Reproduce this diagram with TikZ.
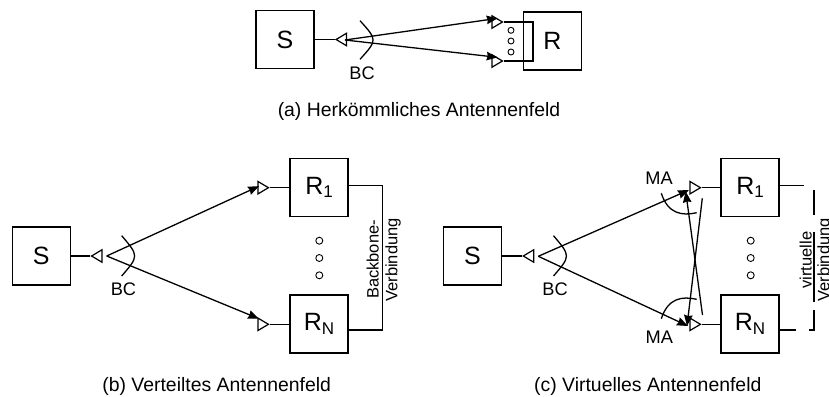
\documentclass[tikz,border=0pt]{standalone}
\usepackage{fontspec}
\setmainfont{Liberation Sans}
\usetikzlibrary{arrows.meta,shapes.geometric}
\newcommand{\lblfont}{\fontsize{16.5}{18}\selectfont}
\newcommand{\subidx}[1]{\raisebox{-3.5pt}{\fontsize{17}{17}\selectfont #1}}
\tikzset{
  box/.style={draw, line width=1.3pt, minimum size=58pt, inner sep=0pt, font=\fontsize{25}{26}\selectfont},
  ant/.style={draw, isosceles triangle, isosceles triangle stretches, line width=1.2pt, inner sep=0pt, minimum width=12.5pt, minimum height=10.5pt, anchor=apex},
  rxant/.style={ant, shape border rotate=0},
  txant/.style={ant, shape border rotate=180},
  dot/.style={draw, circle, line width=0.9pt, inner sep=0pt, minimum size=7pt},
  wire/.style={line width=1.3pt},
  beam/.style={line width=1.3pt, -{Stealth[length=11pt,width=8.5pt,inset=1pt]}},
  lbl/.style={font=\lblfont, inner sep=0pt},
  tag/.style={font=\fontsize{18.2}{20}\selectfont, inner sep=0pt},
  captxt/.style={font=\fontsize{19.4}{21}\selectfont, inner sep=0pt, anchor=base}
}
\begin{document}
\begin{tikzpicture}[x=1pt,y=-1pt]
  \useasboundingbox (0,0) rectangle (829,396);
  % Top: conventional array
  \node[box] (sa) at (285,39.5) {S};
  \node[box] (ra) at (552.5,41) {R};
  \node[txant] (ta) at (334.5,39.5) {};
  \node[rxant] (ra1) at (504,22) {};
  \node[rxant] (ra2) at (504,61) {};
  \coordinate (fa) at (345,40);
  \coordinate (bka) at (533,41);
  \draw[wire] (sa.east) -- (ta.apex);
  \draw[beam] (fa) -- (ra1.left side);
  \draw[beam] (fa) -- (ra2.left side);
  \draw[wire] (ra1.apex) -| (bka) |- (ra2.apex);
  \draw[wire] (360,20.7) .. controls (377.4,40) .. (360,59.3);
  \foreach \n/\y in {1/30.3,2/41,3/52} \node[dot, minimum size=6pt] (da\n) at (511,\y) {};
  \node[tag] (bca) at (362,73) {BC};
  \node[captxt] (capa) at (419,116.7) {(a) Herkömmliches Antennenfeld};
  % Left: distributed array
  \begin{scope}
    \node[box] (sb) at (41.3,256) {S};
    \node[box] (rb1) at (319,187.5) {R\subidx{1}};
    \node[box] (rbn) at (319,324) {R\subidx{N}};
    \node[txant] (tb) at (90,256) {};
    \node[rxant] (rb1a) at (270,187.7) {};
    \node[rxant] (rbna) at (270,324.3) {};
    \coordinate (fb) at (106.7,256);
    \coordinate (bkb) at (382.7,258);
    \draw[wire] (sb.east) -- (tb.apex);
    \draw[wire] (rb1a.apex) -- (rb1a.apex -| rb1.west);
    \draw[wire] (rbna.apex) -- (rbna.apex -| rbn.west);
    \draw[beam, shorten >=5pt] (fb) -- (rb1a.left side);
    \draw[beam, shorten >=5pt] (fb) -- (rbna.left side);
    \draw[wire] ([yshift=1.8pt]rb1.east) -| (bkb) |- ([yshift=-6pt]rbn.east);
    \draw[wire] (121.7,235.7) .. controls (138.9,256) .. (121.7,276);
    \foreach \n/\y in {1/240.7,2/258,3/275.3} \node[dot] (db\n) at (319.3,\y) {};
    \node[tag] (bcb) at (123.5,289) {BC};
    \node[lbl, rotate=90] (bbl1) at (372.7,259.5) {Backbone-};
    \node[lbl, rotate=90] (bbl2) at (393,260) {Verbindung};
    \node[captxt] (capb) at (216.7,391.2) {(b) Verteiltes Antennenfeld};
  \end{scope}
  % Right: virtual array
  \begin{scope}
    \node[box] (sc) at (472.5,256) {S};
    \node[box] (rc1) at (750,187.5) {R\subidx{1}};
    \node[box] (rcn) at (750,324) {R\subidx{N}};
    \node[txant] (tc) at (521.7,256) {};
    \node[rxant] (rc1a) at (702,187.7) {};
    \node[rxant] (rcna) at (702,324.3) {};
    \coordinate (fc) at (538.3,256.3);
    \coordinate (xa1) at (702.5,315);
    \coordinate (xb1) at (702.3,198.3);
    \coordinate (ma1) at (685.7,191.5);
    \coordinate (ma2) at (687,326);
    \coordinate (ua) at (804,185.7);
    \coordinate (ub) at (795.7,330);
    \draw[wire] (sc.east) -- (tc.apex);
    \draw[wire] (rc1a.apex) -- (rc1a.apex -| rc1.west);
    \draw[wire] (rcna.apex) -- (rcna.apex -| rcn.west);
    \draw[beam] (fc) -- (689,190);
    \draw[beam] (fc) -- (688,326);
    \draw[beam] (xa1) -- (ma1);
    \draw[beam] (xb1) -- (ma2);
    \draw[wire] ([yshift=1.8pt]rc1.east) -- (ua);
    \draw[wire] ([yshift=-6pt]rcn.east) -- (ub);
    \draw[wire] (553.5,235.7) .. controls (570.7,256) .. (553.5,276);
    \draw[wire] (661.3,193.3) .. controls (668,214) and (682,216) .. (696.7,212.7);
    \draw[wire] (661.3,318.7) .. controls (668,298) and (682,296) .. (696.7,299.3);
    \draw[wire] (814,190) -- (814,215);
    \draw[wire] (814,231.7) -- (814,301.7);
    \draw[wire] (814,310) -- (814,330) -- (809,330);
    \foreach \n/\y in {1/240.7,2/258,3/275.3} \node[dot] (dc\n) at (750.7,\y) {};
    \node[tag] (bcc) at (555,289) {BC};
    \node[tag] (mac1) at (659,178.3) {MA};
    \node[tag] (mac2) at (659.3,337.7) {MA};
    \node[lbl, rotate=90] (vbl1) at (805.7,260) {virtuelle};
    \node[lbl, rotate=90] (vbl2) at (825,260) {Verbindung};
    \node[captxt] (capc) at (647.8,391) {(c) Virtuelles Antennenfeld};
  \end{scope}
\end{tikzpicture}
\end{document}
